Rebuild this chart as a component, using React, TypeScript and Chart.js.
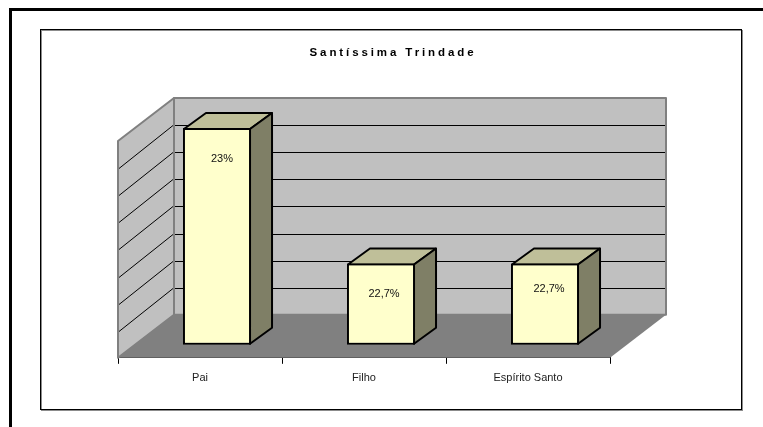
import React, { useEffect, useRef } from "react";
import { Chart, registerables } from "chart.js";

Chart.register(...registerables);

const chartTitle = "Santíssima Trindade";
const categories = ["Pai", "Filho", "Espírito Santo"];
const seriesValues = [23, 22.7, 22.7];
const valueLabels = ["23%", "22,7%", "22,7%"];
const axisMin = 22.52;
const axisMax = 23;
const axisStep = 0.06;
const labelShiftX = [5, 3, 4];
const labelShiftY = [31, 30, 25];

const FONT = '"Liberation Sans", Arial, sans-serif';
const WALL_DX = 56;
const WALL_DY = -43;
const BAR_SHIFT_X = 17;
const BAR_SHIFT_Y = -13;
const BAR_DX = 22;
const BAR_DY = -16;

function poly(ctx: CanvasRenderingContext2D, pts: number[][], fill: string, stroke?: string, lw = 2) {
  ctx.beginPath();
  pts.forEach((p, i) => (i ? ctx.lineTo(p[0], p[1]) : ctx.moveTo(p[0], p[1])));
  ctx.closePath();
  ctx.fillStyle = fill;
  ctx.fill();
  if (stroke) {
    ctx.strokeStyle = stroke;
    ctx.lineWidth = lw;
    ctx.lineJoin = "round";
    ctx.stroke();
  }
}

const framePlugin = {
  id: "frame3d",
  beforeDraw(chart: any) {
    const ctx: CanvasRenderingContext2D = chart.ctx;
    ctx.save();
    ctx.fillStyle = "#fff";
    ctx.fillRect(0, 0, chart.width, chart.height);
    // outer page frame
    ctx.fillStyle = "#000";
    ctx.fillRect(9, 8, chart.width - 9, 3);
    ctx.fillRect(9, 8, 3, chart.height - 8);
    // inner chart frame
    ctx.strokeStyle = "#8c8c8c";
    ctx.lineWidth = 1;
    ctx.strokeRect(41.5, 30.5, 701, 380);
    ctx.strokeStyle = "#000";
    ctx.strokeRect(40.5, 29.5, 701, 380);
    // title
    ctx.fillStyle = "#000";
    ctx.font = `bold 11.5px ${FONT}`;
    ctx.textAlign = "center";
    ctx.textBaseline = "middle";
    (ctx as any).letterSpacing = "2.9px";
    ctx.fillText(chartTitle, 393, 53);
    (ctx as any).letterSpacing = "0px";
    ctx.restore();
  },
  beforeDatasetsDraw(chart: any) {
    const ctx: CanvasRenderingContext2D = chart.ctx;
    const { left, right, top, bottom } = chart.chartArea;
    const yScale = chart.scales.y;
    ctx.save();
    // side wall
    poly(ctx, [[left, top], [left + WALL_DX, top + WALL_DY], [left + WALL_DX, bottom + WALL_DY], [left, bottom]], "#c0c0c0", "#808080", 2);
    // back wall
    poly(ctx, [[left + WALL_DX, top + WALL_DY], [right + WALL_DX, top + WALL_DY], [right + WALL_DX, bottom + WALL_DY], [left + WALL_DX, bottom + WALL_DY]], "#c0c0c0", "#808080", 2);
    // floor
    poly(ctx, [[left, bottom], [right, bottom], [right + WALL_DX, bottom + WALL_DY], [left + WALL_DX, bottom + WALL_DY]], "#808080");
    // gridlines on both walls
    ctx.strokeStyle = "#000";
    ctx.lineWidth = 1;
    yScale.ticks.forEach((t: any) => {
      if (t.value <= axisMin + 1e-6 || t.value >= axisMax - 1e-6) return;
      const y = Math.round(yScale.getPixelForValue(t.value));
      ctx.beginPath();
      ctx.moveTo(left + 1, y + 0.5);
      ctx.lineTo(left + WALL_DX - 1, y + WALL_DY + 0.5);
      ctx.moveTo(left + WALL_DX + 1, y + WALL_DY + 0.5);
      ctx.lineTo(right + WALL_DX - 1, y + WALL_DY + 0.5);
      ctx.stroke();
    });
    ctx.restore();

    // bars stand in the middle of the floor: shift them and draw their depth faces
    ctx.save();
    ctx.translate(BAR_SHIFT_X, BAR_SHIFT_Y);
    const meta = chart.getDatasetMeta(0);
    meta.data.forEach((bar: any) => {
      const l = bar.x - bar.width / 2 + 1;
      const r = bar.x + bar.width / 2 - 1;
      const t = bar.y + 1;
      const b = bar.base - 1;
      poly(ctx, [[l, t], [r, t], [r + BAR_DX, t + BAR_DY], [l + BAR_DX, t + BAR_DY]], "#bfbf99", "#000", 2);
      poly(ctx, [[r, t], [r + BAR_DX, t + BAR_DY], [r + BAR_DX, b + BAR_DY], [r, b]], "#7f7f66", "#000", 2);
    });
  },
  afterDatasetsDraw(chart: any) {
    const ctx: CanvasRenderingContext2D = chart.ctx;
    ctx.restore();
    ctx.save();
    ctx.fillStyle = "#111";
    ctx.font = `11px ${FONT}`;
    ctx.textAlign = "center";
    ctx.textBaseline = "middle";
    chart.getDatasetMeta(0).data.forEach((bar: any, i: number) => {
      ctx.fillText(valueLabels[i], bar.x + BAR_SHIFT_X + labelShiftX[i], bar.y + BAR_SHIFT_Y + labelShiftY[i]);
    });
    ctx.restore();
  },
};

export default function App() {
  const ref = useRef<HTMLCanvasElement>(null);
  useEffect(() => {
    const chart = new Chart(ref.current!, {
      type: "bar",
      data: {
        labels: categories,
        datasets: [
          {
            label: chartTitle,
            data: seriesValues,
            base: axisMin,
            backgroundColor: "#ffffcc",
            borderColor: "#000",
            borderWidth: 2,
            borderSkipped: false,
            barPercentage: 0.415,
            categoryPercentage: 1,
            clip: false,
          } as any,
        ],
      },
      options: {
        animation: false,
        responsive: false,
        layout: { padding: { left: 118, right: 153, top: 141, bottom: 34 } },
        plugins: { legend: { display: false }, title: { display: false }, tooltip: { enabled: false } },
        scales: {
          x: {
            offset: true,
            border: { display: true, color: "#000", width: 1 },
            grid: { display: true, drawOnChartArea: false, drawTicks: true, tickLength: 6, color: "#000", offset: true },
            ticks: { color: "#222", padding: 8, maxRotation: 0, font: { family: FONT, size: 11 } },
          },
          y: {
            display: false,
            min: axisMin,
            max: axisMax,
            ticks: { stepSize: axisStep },
            grid: { display: false },
          },
        },
      },
      plugins: [framePlugin],
    } as any);
    return () => chart.destroy();
  }, []);
  return (
    <canvas
      ref={ref}
      width={763}
      height={427}
      style={{ position: "fixed", left: 0, top: 0, width: 763, height: 427, display: "block" }}
    />
  );
}
